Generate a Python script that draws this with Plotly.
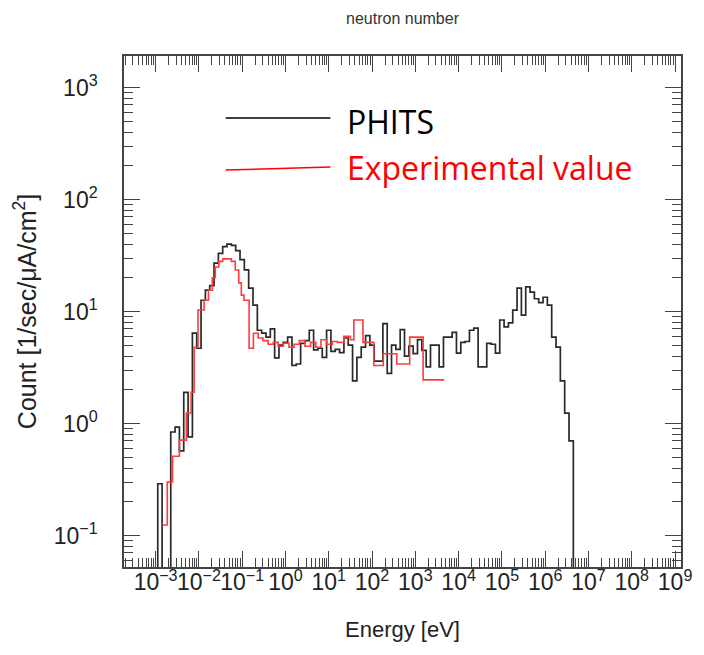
import plotly.graph_objects as go

# ---------------- data ----------------
# PHITS histogram: log10(E [eV]) bin edges and counts per bin
phits_log_edges = [
    -2.95, -2.85, -2.75, -2.65, -2.55, -2.45, -2.35, -2.25, -2.15, -2.05,
    -1.95, -1.85, -1.75, -1.65, -1.55, -1.45, -1.35, -1.25, -1.15, -1.05,
    -0.95, -0.85, -0.75, -0.65, -0.55, -0.45, -0.35, -0.25, -0.15, -0.05,
    0.05, 0.15, 0.25, 0.35, 0.45, 0.55, 0.65, 0.75, 0.85, 0.95,
    1.05, 1.15, 1.25, 1.35, 1.45, 1.55, 1.65, 1.75, 1.85, 1.95,
    2.05, 2.15, 2.25, 2.35, 2.45, 2.55, 2.65, 2.75, 2.85, 2.95,
    3.05, 3.15, 3.25, 3.35, 3.45, 3.55, 3.65, 3.75, 3.85, 3.95,
    4.05, 4.15, 4.25, 4.35, 4.45, 4.55, 4.65, 4.75, 4.85, 4.95,
    5.05, 5.15, 5.25, 5.35, 5.45, 5.55, 5.65, 5.75, 5.85, 5.95,
    6.05, 6.15, 6.25, 6.35, 6.45, 6.55, 6.65,
]
phits_counts = [
    0.29, 0, 0, 0.84, 0.93, 0.57, 1.9, 0.76, 6.4, 4.7,
    12.6, 15.5, 17, 27, 33, 38, 40, 39, 35, 29,
    23.5, 16.2, 11.4, 6.8, 6.4, 5.9, 7.0, 3.85, 5.0, 5.3,
    5.9, 3.3, 3.4, 5.2, 5.5, 6.8, 4.55, 4.7, 3.9, 6.8,
    4.4, 4.6, 4.3, 5.8, 5.0, 2.4, 3.9, 4.8, 6.1, 5.0,
    3.6, 3.6, 7.8, 2.8, 5.0, 4.6, 6.9, 4.0, 4.9, 4.2,
    5.6, 4.5, 3.2, 5.0, 5.0, 3.2, 5.9, 5.9, 6.5, 4.25,
    5.3, 5.4, 6.8, 7.1, 3.2, 3.2, 5.2, 5.1, 4.25, 8.4,
    7.3, 7.9, 10.3, 16.2, 9.3, 16.6, 14.9, 13.0, 12.0, 13.4,
    11.4, 5.9, 4.8, 2.4, 1.24, 0.7,
]

# Experimental histogram: log10(E [eV]) bin edges and counts per bin
exp_log_edges = [
    -2.84, -2.73, -2.61, -2.45, -2.29, -2.18, -2.11, -2.02, -1.88, -1.78,
    -1.69, -1.62, -1.54, -1.45, -1.35, -1.25, -1.16, -1.08, -1.02, -0.96,
    -0.84, -0.74, -0.63, -0.52, -0.40, -0.28, -0.17, -0.05, 0.08, 0.20,
    0.32, 0.45, 0.58, 0.70, 0.82, 0.95, 1.08, 1.20, 1.35, 1.50,
    1.58, 1.79, 2.04, 2.26, 2.57, 2.87, 3.18, 3.67,
]
exp_counts = [
    0.124, 0.30, 0.51, 0.71, 1.24, 1.9, 4.8, 10.3, 12.6, 15.5,
    20, 25, 28, 29.5, 29.5, 28, 23.5, 18, 14, 12.6,
    4.7, 6.4, 5.8, 5.5, 5.1, 5.3, 4.9, 5.2, 4.8, 5.1,
    5.5, 4.9, 5.3, 4.8, 5.6, 5.1, 5.4, 5.3, 6.0, 5.6,
    8.4, 5.3, 3.3, 4.2, 3.4, 5.9, 2.45,
]

x_decades = list(range(-3, 10))
y_decades = list(range(-1, 4))
x_ticktext = ["10<sup>" + (str(d) if d >= 0 else "\u2212" + str(-d)) + "</sup>" for d in x_decades]
y_ticktext = ["10<sup>" + (str(d) if d >= 0 else "\u2212" + str(-d)) + "</sup>" for d in y_decades]

FLOOR = 1e-3  # plotting stand-in for empty bins (below visible range)


def step_xy(log_edges, counts, close_ends):
    edges = [10 ** e for e in log_edges]
    vals = [c if c > 0 else FLOOR for c in counts]
    xs, ys = [], []
    if close_ends:
        xs.append(edges[0]); ys.append(FLOOR)
    for e, v in zip(edges[:-1], vals):
        xs.append(e); ys.append(v)
    xs.append(edges[-1]); ys.append(vals[-1])
    if close_ends:
        xs.append(edges[-1]); ys.append(FLOOR)
    return xs, ys


fig = go.Figure()

px_, py_ = step_xy(phits_log_edges, phits_counts, True)
fig.add_trace(go.Scatter(x=px_, y=py_, mode="lines", line_shape="hv",
                         line=dict(color="#2a2a2a", width=1.7), name="PHITS"))

ex_, ey_ = step_xy(exp_log_edges, exp_counts, False)
fig.add_trace(go.Scatter(x=ex_, y=ey_, mode="lines", line_shape="hv",
                         line=dict(color="#ff3b3b", width=1.6), name="Experimental value"))

minor_x = [m * 10 ** d for d in range(-4, 10) for m in range(2, 10)]
minor_y = [m * 10 ** d for d in range(-2, 4) for m in range(2, 10)]

axis_common = dict(
    type="log", showgrid=False, zeroline=False,
    showline=True, linecolor="#444", linewidth=1.5, mirror="allticks",
    ticks="inside", tickcolor="#444", tickwidth=1,
    tickfont=dict(family="Liberation Sans, Arial, sans-serif", size=23, color="#222"),
)

fig.update_xaxes(
    **axis_common,
    range=[-3.730, 9.137],
    tickmode="array", tickvals=[10 ** d for d in x_decades], ticktext=x_ticktext,
    tickangle=0,
    ticklen=16, ticklabelstandoff=-6,
    minor=dict(tickmode="array", tickvals=minor_x, ticks="inside", ticklen=9,
               tickcolor="#444", tickwidth=1, showgrid=False),
    title=dict(text="Energy [eV]", font=dict(family="Liberation Sans, Arial, sans-serif", size=22, color="#222"),
               standoff=27),
)
fig.update_yaxes(
    **axis_common,
    range=[-1.281, 3.281],
    tickmode="array", tickvals=[10 ** d for d in y_decades], ticktext=y_ticktext,
    ticklen=16, ticklabelstandoff=20,
    minor=dict(tickmode="array", tickvals=minor_y, ticks="inside", ticklen=9,
               tickcolor="#444", tickwidth=1, showgrid=False),
    title=dict(text="Count [1/sec/\u03bcA/cm<sup>2</sup>]",
               font=dict(family="Liberation Sans, Arial, sans-serif", size=25, color="#222"),
               standoff=10),
)

# legend drawn as lines + text inside the plot
fig.add_shape(type="line", xref="paper", yref="paper", x0=0.1826, x1=0.3706, y0=0.8787, y1=0.8787,
              line=dict(color="black", width=1.5))
fig.add_shape(type="line", xref="paper", yref="paper", x0=0.1826, x1=0.3706, y0=0.7769, y1=0.7828,
              line=dict(color="#ff0000", width=1.5))
fig.add_annotation(xref="paper", yref="paper", x=0.397, y=0.871, xanchor="left", yanchor="middle",
                   text="PHITS", showarrow=False,
                   font=dict(family="Open Sans, sans-serif", size=32, color="black"))
fig.add_annotation(xref="paper", yref="paper", x=0.397, y=0.781, xanchor="left", yanchor="middle",
                   text="Experimental value", showarrow=False,
                   font=dict(family="Open Sans, sans-serif", size=32, color="#ff0000"))

fig.update_layout(
    width=704, height=655,
    margin=dict(l=124, r=16, t=56, b=88),
    paper_bgcolor="white", plot_bgcolor="white",
    showlegend=False,
    title=dict(text="neutron number", x=0.5, xref="paper", y=1 - 18 / 655, yanchor="middle",
               font=dict(family="Liberation Sans, Arial, sans-serif", size=16, color="#333")),
)

fig.write_html("out.html")
